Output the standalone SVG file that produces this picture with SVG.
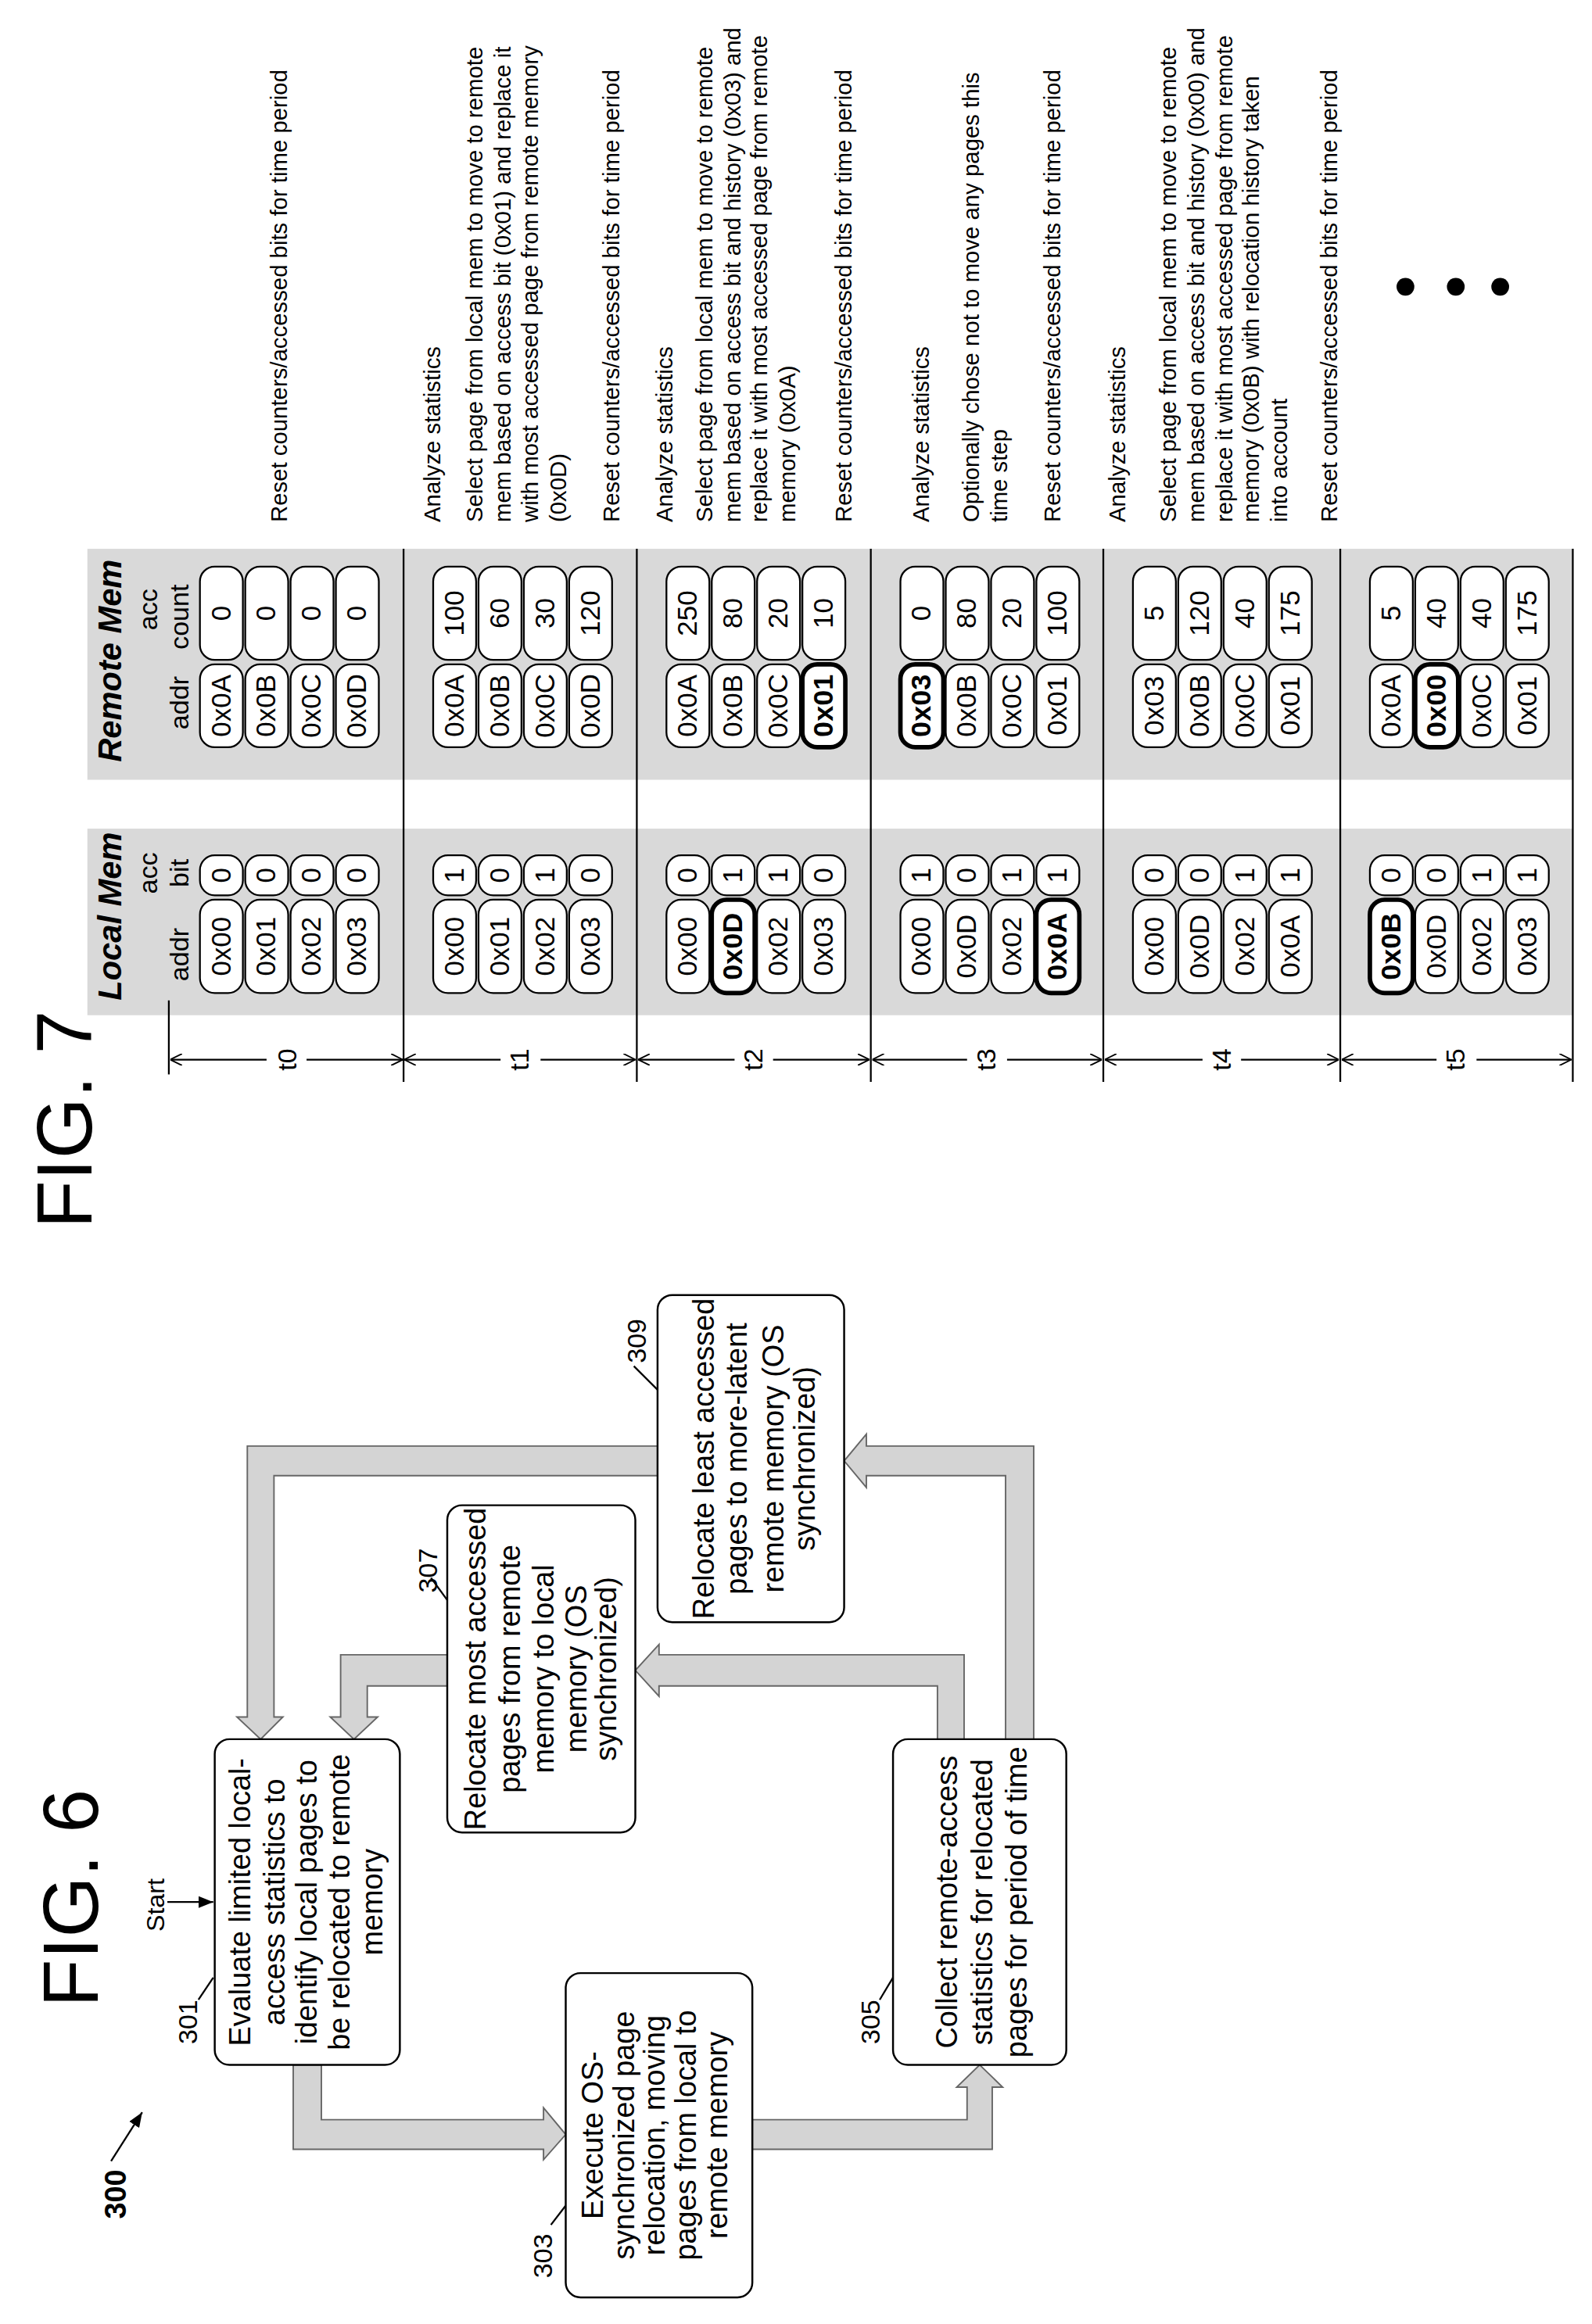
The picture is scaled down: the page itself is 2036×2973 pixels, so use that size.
<svg xmlns="http://www.w3.org/2000/svg" width="2036" height="2973" viewBox="0 0 2036 2973">
<style>
text{font-family:"Liberation Sans",Arial,sans-serif;fill:#000}
.box{fill:#fff;stroke:#000;stroke-width:1.3}
.bt{font-size:20px;text-anchor:middle}
.lbl{font-size:18px}
.blk{fill:#d4d4d4;stroke:#666;stroke-width:1}
.panel{fill:#d9d9d9}
.pill{fill:#fff;stroke:#000;stroke-width:1.2}
.pb{fill:#fff;stroke:#000;stroke-width:3}
.pt{font-size:18.5px;text-anchor:middle}
.ptb{font-size:19px;text-anchor:middle;font-weight:bold}
.hd{font-size:22px;font-weight:bold;font-style:italic}
.sh{font-size:18px;text-anchor:middle}
.ds{font-size:15.5px}
.ln{stroke:#000;stroke-width:1.2;fill:none}
</style>
<defs>
<marker id="v" markerWidth="8" markerHeight="8" refX="8" refY="4" orient="auto" markerUnits="userSpaceOnUse"><path d="M0,0 L8,4 L0,8" fill="none" stroke="#000" stroke-width="1"/></marker>
<marker id="tri" markerWidth="10" markerHeight="8" refX="10" refY="4" orient="auto" markerUnits="userSpaceOnUse"><path d="M0,0 L10,4 L0,8 Z" fill="#000"/></marker>
</defs>
<g transform="translate(0,2973) rotate(-90) scale(1.894)">
<!-- FIG 6 -->
<text x="214" y="66" font-size="53" id="fig6">FIG. 6</text>
<g id="n300"><text x="71" y="85" font-size="20" font-weight="bold">300</text></g>
<g id="start"><text x="265" y="111" font-size="17">Start</text></g>
<g id="connectors">
<line class="ln" x1="110" y1="75" x2="143" y2="96" marker-end="url(#tri)"/>
<line class="ln" x1="285" y1="113" x2="285" y2="144" marker-end="url(#tri)"/>
<polygon class="blk" points="175,198 175,217 138,217 138,367 146,367 128,382 111,367 118,367 118,198"/>
<polygon class="blk" points="138,508 138,653 160,653 160,646 175,661.5 160,677 160,670 118,670 118,508"/>
<polygon class="blk" points="395,633 395,651 452,651 452,445 459,445 441.5,429 424,445 431,445 431,633"/>
<polygon class="blk" points="452,302 452,230 410,230 410,223 395,239 410,255 410,248 431,248 431,302"/>
<polygon class="blk" points="395,679 395,698 593,698 593,585 601,585 583,570 565,585 573,585 573,679"/>
<polygon class="blk" points="593,444 593,167 410,167 410,160 395,176 410,191 410,185 573,185 573,444"/>
<line class="ln" x1="219" y1="134" x2="234" y2="144"/>
<line class="ln" x1="67" y1="372" x2="80" y2="382"/>
<line class="ln" x1="219" y1="594" x2="234" y2="603"/>
<line class="ln" x1="504" y1="291" x2="489" y2="302"/>
<line class="ln" x1="647" y1="428" x2="631" y2="444"/>
</g>
<g id="b301"><rect class="box" x="175" y="145" width="220" height="125" rx="10"/>
<text class="bt" x="285"><tspan x="285" y="169">Evaluate limited local-</tspan><tspan x="285" y="192">access statistics to</tspan><tspan x="285" y="214">identify local pages to</tspan><tspan x="285" y="236">be relocated to remote</tspan><tspan x="285" y="258">memory</tspan></text>
<text class="lbl" x="189" y="133">301</text></g>
<g id="b303"><rect class="box" x="18" y="382" width="219" height="126" rx="10"/>
<text class="bt"><tspan x="127.5" y="407">Execute OS-</tspan><tspan x="127.5" y="428">synchronized page</tspan><tspan x="127.5" y="449">relocation, moving</tspan><tspan x="127.5" y="470">pages from local to</tspan><tspan x="127.5" y="491">remote memory</tspan></text>
<text class="lbl" x="31" y="373">303</text></g>
<g id="b305"><rect class="box" x="175" y="603" width="220" height="117" rx="10"/>
<text class="bt"><tspan x="285" y="646">Collect remote-access</tspan><tspan x="285" y="670">statistics for relocated</tspan><tspan x="285" y="693">pages for period of time</tspan></text>
<text class="lbl" x="189" y="594">305</text></g>
<g id="b307"><rect class="box" x="332" y="302" width="221" height="127" rx="10"/>
<text class="bt"><tspan x="442.5" y="328">Relocate most accessed</tspan><tspan x="442.5" y="351">pages from remote</tspan><tspan x="442.5" y="374">memory to local</tspan><tspan x="442.5" y="396">memory (OS</tspan><tspan x="442.5" y="416">synchronized)</tspan></text>
<text class="lbl" x="494" y="295">307</text></g>
<g id="b309"><rect class="box" x="474" y="444" width="221" height="126" rx="10"/>
<text class="bt"><tspan x="584.5" y="482">Relocate least accessed</tspan><tspan x="584.5" y="504">pages to more-latent</tspan><tspan x="584.5" y="529">remote memory (OS</tspan><tspan x="584.5" y="550">synchronized)</tspan></text>
<text class="lbl" x="649" y="436">309</text></g>
<!-- FIG 7 -->
<text x="740" y="62" font-size="53" id="fig7">FIG. 7</text>
<g id="panels">
<rect class="panel" x="884" y="59" width="126" height="1003"/>
<rect class="panel" x="1043" y="59" width="156" height="1003"/>
<text class="hd" x="894" y="82">Local Mem</text>
<text class="hd" x="1055" y="82">Remote Mem</text>
<text class="sh" x="980" y="106">acc</text><text class="sh" x="980" y="127">bit</text><text class="sh" x="925" y="127">addr</text>
<text class="sh" x="1158" y="106">acc</text><text class="sh" x="1153" y="127">count</text><text class="sh" x="1095" y="127">addr</text>
</g>
<g id="axis">
<line class="ln" x1="844" y1="114" x2="894" y2="114"/>
<line class="ln" x1="839" y1="272.5" x2="1199" y2="272.5"/>
<line class="ln" x1="839" y1="430" x2="1199" y2="430"/>
<line class="ln" x1="839" y1="588" x2="1199" y2="588"/>
<line class="ln" x1="839" y1="745" x2="1199" y2="745"/>
<line class="ln" x1="839" y1="905" x2="1199" y2="905"/>
<line class="ln" x1="839" y1="1062" x2="1199" y2="1062"/>
<g marker-end="url(#v)">
<line class="ln" x1="854" y1="180" x2="854" y2="115"/><line class="ln" x1="854" y1="207" x2="854" y2="272"/>
<line class="ln" x1="854" y1="338" x2="854" y2="273"/><line class="ln" x1="854" y1="365" x2="854" y2="429"/>
<line class="ln" x1="854" y1="496" x2="854" y2="431"/><line class="ln" x1="854" y1="522" x2="854" y2="587"/>
<line class="ln" x1="854" y1="653" x2="854" y2="589"/><line class="ln" x1="854" y1="680" x2="854" y2="744"/>
<line class="ln" x1="854" y1="812" x2="854" y2="746"/><line class="ln" x1="854" y1="838" x2="854" y2="904"/>
<line class="ln" x1="854" y1="970" x2="854" y2="906"/><line class="ln" x1="854" y1="997" x2="854" y2="1061"/>
</g>
<text class="sh" x="854" y="200">t0</text><text class="sh" x="854" y="357">t1</text><text class="sh" x="854" y="515">t2</text>
<text class="sh" x="854" y="672">t3</text><text class="sh" x="854" y="831">t4</text><text class="sh" x="854" y="989">t5</text>
</g>
<g id="t0" transform="translate(0,115)">
<rect class="pill" x="899" y="20" width="63" height="29" rx="10"/><rect class="pill" x="899" y="50.6" width="63" height="29" rx="10"/><rect class="pill" x="899" y="81.2" width="63" height="29" rx="10"/><rect class="pill" x="899" y="111.8" width="63" height="29" rx="10"/>
<rect class="pill" x="965" y="20" width="27" height="29" rx="10"/><rect class="pill" x="965" y="50.6" width="27" height="29" rx="10"/><rect class="pill" x="965" y="81.2" width="27" height="29" rx="10"/><rect class="pill" x="965" y="111.8" width="27" height="29" rx="10"/>
<rect class="pill" x="1065" y="20" width="56" height="29" rx="10"/><rect class="pill" x="1065" y="50.6" width="56" height="29" rx="10"/><rect class="pill" x="1065" y="81.2" width="56" height="29" rx="10"/><rect class="pill" x="1065" y="111.8" width="56" height="29" rx="10"/>
<rect class="pill" x="1124" y="20" width="63" height="29" rx="10"/><rect class="pill" x="1124" y="50.6" width="63" height="29" rx="10"/><rect class="pill" x="1124" y="81.2" width="63" height="29" rx="10"/><rect class="pill" x="1124" y="111.8" width="63" height="29" rx="10"/>
<text class="pt" x="930.5" y="40.5">0x00</text><text class="pt" x="930.5" y="71.1">0x01</text><text class="pt" x="930.5" y="101.7">0x02</text><text class="pt" x="930.5" y="132.3">0x03</text>
<text class="pt" x="978.5" y="40.5">0</text><text class="pt" x="978.5" y="71.1">0</text><text class="pt" x="978.5" y="101.7">0</text><text class="pt" x="978.5" y="132.3">0</text>
<text class="pt" x="1093" y="40.5">0x0A</text><text class="pt" x="1093" y="71.1">0x0B</text><text class="pt" x="1093" y="101.7">0x0C</text><text class="pt" x="1093" y="132.3">0x0D</text>
<text class="pt" x="1155.5" y="40.5">0</text><text class="pt" x="1155.5" y="71.1">0</text><text class="pt" x="1155.5" y="101.7">0</text><text class="pt" x="1155.5" y="132.3">0</text>
<text class="ds" x="1217" y="79">Reset counters/accessed bits for time period</text>
</g>
<g id="t1" transform="translate(0,272.5)">
<rect class="pill" x="899" y="20" width="63" height="29" rx="10"/><rect class="pill" x="899" y="50.6" width="63" height="29" rx="10"/><rect class="pill" x="899" y="81.2" width="63" height="29" rx="10"/><rect class="pill" x="899" y="111.8" width="63" height="29" rx="10"/>
<rect class="pill" x="965" y="20" width="27" height="29" rx="10"/><rect class="pill" x="965" y="50.6" width="27" height="29" rx="10"/><rect class="pill" x="965" y="81.2" width="27" height="29" rx="10"/><rect class="pill" x="965" y="111.8" width="27" height="29" rx="10"/>
<rect class="pill" x="1065" y="20" width="56" height="29" rx="10"/><rect class="pill" x="1065" y="50.6" width="56" height="29" rx="10"/><rect class="pill" x="1065" y="81.2" width="56" height="29" rx="10"/><rect class="pill" x="1065" y="111.8" width="56" height="29" rx="10"/>
<rect class="pill" x="1124" y="20" width="63" height="29" rx="10"/><rect class="pill" x="1124" y="50.6" width="63" height="29" rx="10"/><rect class="pill" x="1124" y="81.2" width="63" height="29" rx="10"/><rect class="pill" x="1124" y="111.8" width="63" height="29" rx="10"/>
<text class="pt" x="930.5" y="40.5">0x00</text><text class="pt" x="930.5" y="71.1">0x01</text><text class="pt" x="930.5" y="101.7">0x02</text><text class="pt" x="930.5" y="132.3">0x03</text>
<text class="pt" x="978.5" y="40.5">1</text><text class="pt" x="978.5" y="71.1">0</text><text class="pt" x="978.5" y="101.7">1</text><text class="pt" x="978.5" y="132.3">0</text>
<text class="pt" x="1093" y="40.5">0x0A</text><text class="pt" x="1093" y="71.1">0x0B</text><text class="pt" x="1093" y="101.7">0x0C</text><text class="pt" x="1093" y="132.3">0x0D</text>
<text class="pt" x="1155.5" y="40.5">100</text><text class="pt" x="1155.5" y="71.1">60</text><text class="pt" x="1155.5" y="101.7">30</text><text class="pt" x="1155.5" y="132.3">120</text>
<text class="ds" x="1217" y="24.5">Analyze statistics</text>
<text class="ds"><tspan x="1217" y="53.5">Select page from local mem to move to remote</tspan><tspan x="1217" y="72.5">mem based on access bit (0x01) and replace it</tspan><tspan x="1217" y="90.5">with most accessed page from remote memory</tspan><tspan x="1217" y="109.5">(0x0D)</tspan></text>
<text class="ds" x="1217" y="145.5">Reset counters/accessed bits for time period</text>
</g>
<g id="t2" transform="translate(0,430)">
<rect class="pill" x="899" y="20" width="63" height="29" rx="10"/><rect class="pb" x="899" y="50.6" width="63" height="29" rx="10"/><rect class="pill" x="899" y="81.2" width="63" height="29" rx="10"/><rect class="pill" x="899" y="111.8" width="63" height="29" rx="10"/>
<rect class="pill" x="965" y="20" width="27" height="29" rx="10"/><rect class="pill" x="965" y="50.6" width="27" height="29" rx="10"/><rect class="pill" x="965" y="81.2" width="27" height="29" rx="10"/><rect class="pill" x="965" y="111.8" width="27" height="29" rx="10"/>
<rect class="pill" x="1065" y="20" width="56" height="29" rx="10"/><rect class="pill" x="1065" y="50.6" width="56" height="29" rx="10"/><rect class="pill" x="1065" y="81.2" width="56" height="29" rx="10"/><rect class="pb" x="1065" y="111.8" width="56" height="29" rx="10"/>
<rect class="pill" x="1124" y="20" width="63" height="29" rx="10"/><rect class="pill" x="1124" y="50.6" width="63" height="29" rx="10"/><rect class="pill" x="1124" y="81.2" width="63" height="29" rx="10"/><rect class="pill" x="1124" y="111.8" width="63" height="29" rx="10"/>
<text class="pt" x="930.5" y="40.5">0x00</text><text class="ptb" x="930.5" y="71.1">0x0D</text><text class="pt" x="930.5" y="101.7">0x02</text><text class="pt" x="930.5" y="132.3">0x03</text>
<text class="pt" x="978.5" y="40.5">0</text><text class="pt" x="978.5" y="71.1">1</text><text class="pt" x="978.5" y="101.7">1</text><text class="pt" x="978.5" y="132.3">0</text>
<text class="pt" x="1093" y="40.5">0x0A</text><text class="pt" x="1093" y="71.1">0x0B</text><text class="pt" x="1093" y="101.7">0x0C</text><text class="ptb" x="1093" y="132.3">0x01</text>
<text class="pt" x="1155.5" y="40.5">250</text><text class="pt" x="1155.5" y="71.1">80</text><text class="pt" x="1155.5" y="101.7">20</text><text class="pt" x="1155.5" y="132.3">10</text>
<text class="ds" x="1217" y="24">Analyze statistics</text>
<text class="ds"><tspan x="1217" y="51">Select page from local mem to move to remote</tspan><tspan x="1217" y="70">mem based on access bit and history (0x03) and</tspan><tspan x="1217" y="88">replace it with most accessed page from remote</tspan><tspan x="1217" y="107">memory (0x0A)</tspan></text>
<text class="ds" x="1217" y="145">Reset counters/accessed bits for time period</text>
</g>
<g id="t3" transform="translate(0,588)">
<rect class="pill" x="899" y="20" width="63" height="29" rx="10"/><rect class="pill" x="899" y="50.6" width="63" height="29" rx="10"/><rect class="pill" x="899" y="81.2" width="63" height="29" rx="10"/><rect class="pb" x="899" y="111.8" width="63" height="29" rx="10"/>
<rect class="pill" x="965" y="20" width="27" height="29" rx="10"/><rect class="pill" x="965" y="50.6" width="27" height="29" rx="10"/><rect class="pill" x="965" y="81.2" width="27" height="29" rx="10"/><rect class="pill" x="965" y="111.8" width="27" height="29" rx="10"/>
<rect class="pb" x="1065" y="20" width="56" height="29" rx="10"/><rect class="pill" x="1065" y="50.6" width="56" height="29" rx="10"/><rect class="pill" x="1065" y="81.2" width="56" height="29" rx="10"/><rect class="pill" x="1065" y="111.8" width="56" height="29" rx="10"/>
<rect class="pill" x="1124" y="20" width="63" height="29" rx="10"/><rect class="pill" x="1124" y="50.6" width="63" height="29" rx="10"/><rect class="pill" x="1124" y="81.2" width="63" height="29" rx="10"/><rect class="pill" x="1124" y="111.8" width="63" height="29" rx="10"/>
<text class="pt" x="930.5" y="40.5">0x00</text><text class="pt" x="930.5" y="71.1">0x0D</text><text class="pt" x="930.5" y="101.7">0x02</text><text class="ptb" x="930.5" y="132.3">0x0A</text>
<text class="pt" x="978.5" y="40.5">1</text><text class="pt" x="978.5" y="71.1">0</text><text class="pt" x="978.5" y="101.7">1</text><text class="pt" x="978.5" y="132.3">1</text>
<text class="ptb" x="1093" y="40.5">0x03</text><text class="pt" x="1093" y="71.1">0x0B</text><text class="pt" x="1093" y="101.7">0x0C</text><text class="pt" x="1093" y="132.3">0x01</text>
<text class="pt" x="1155.5" y="40.5">0</text><text class="pt" x="1155.5" y="71.1">80</text><text class="pt" x="1155.5" y="101.7">20</text><text class="pt" x="1155.5" y="132.3">100</text>
<text class="ds" x="1217" y="39">Analyze statistics</text>
<text class="ds"><tspan x="1217" y="73">Optionally chose not to move any pages this</tspan><tspan x="1217" y="92">time step</tspan></text>
<text class="ds" x="1217" y="128">Reset counters/accessed bits for time period</text>
</g>
<g id="t4" transform="translate(0,745)">
<rect class="pill" x="899" y="20" width="63" height="29" rx="10"/><rect class="pill" x="899" y="50.6" width="63" height="29" rx="10"/><rect class="pill" x="899" y="81.2" width="63" height="29" rx="10"/><rect class="pill" x="899" y="111.8" width="63" height="29" rx="10"/>
<rect class="pill" x="965" y="20" width="27" height="29" rx="10"/><rect class="pill" x="965" y="50.6" width="27" height="29" rx="10"/><rect class="pill" x="965" y="81.2" width="27" height="29" rx="10"/><rect class="pill" x="965" y="111.8" width="27" height="29" rx="10"/>
<rect class="pill" x="1065" y="20" width="56" height="29" rx="10"/><rect class="pill" x="1065" y="50.6" width="56" height="29" rx="10"/><rect class="pill" x="1065" y="81.2" width="56" height="29" rx="10"/><rect class="pill" x="1065" y="111.8" width="56" height="29" rx="10"/>
<rect class="pill" x="1124" y="20" width="63" height="29" rx="10"/><rect class="pill" x="1124" y="50.6" width="63" height="29" rx="10"/><rect class="pill" x="1124" y="81.2" width="63" height="29" rx="10"/><rect class="pill" x="1124" y="111.8" width="63" height="29" rx="10"/>
<text class="pt" x="930.5" y="40.5">0x00</text><text class="pt" x="930.5" y="71.1">0x0D</text><text class="pt" x="930.5" y="101.7">0x02</text><text class="pt" x="930.5" y="132.3">0x0A</text>
<text class="pt" x="978.5" y="40.5">0</text><text class="pt" x="978.5" y="71.1">0</text><text class="pt" x="978.5" y="101.7">1</text><text class="pt" x="978.5" y="132.3">1</text>
<text class="pt" x="1093" y="40.5">0x03</text><text class="pt" x="1093" y="71.1">0x0B</text><text class="pt" x="1093" y="101.7">0x0C</text><text class="pt" x="1093" y="132.3">0x01</text>
<text class="pt" x="1155.5" y="40.5">5</text><text class="pt" x="1155.5" y="71.1">120</text><text class="pt" x="1155.5" y="101.7">40</text><text class="pt" x="1155.5" y="132.3">175</text>
<text class="ds" x="1217" y="15">Analyze statistics</text>
<text class="ds"><tspan x="1217" y="49">Select page from local mem to move to remote</tspan><tspan x="1217" y="68">mem based on access bit and history (0x00) and</tspan><tspan x="1217" y="87">replace it with most accessed page from remote</tspan><tspan x="1217" y="105">memory (0x0B) with relocation history taken</tspan><tspan x="1217" y="124">into account</tspan></text>
<text class="ds" x="1217" y="158">Reset counters/accessed bits for time period</text>
</g>
<g id="t5" transform="translate(0,905)">
<rect class="pb" x="899" y="20" width="63" height="29" rx="10"/><rect class="pill" x="899" y="50.6" width="63" height="29" rx="10"/><rect class="pill" x="899" y="81.2" width="63" height="29" rx="10"/><rect class="pill" x="899" y="111.8" width="63" height="29" rx="10"/>
<rect class="pill" x="965" y="20" width="27" height="29" rx="10"/><rect class="pill" x="965" y="50.6" width="27" height="29" rx="10"/><rect class="pill" x="965" y="81.2" width="27" height="29" rx="10"/><rect class="pill" x="965" y="111.8" width="27" height="29" rx="10"/>
<rect class="pill" x="1065" y="20" width="56" height="29" rx="10"/><rect class="pb" x="1065" y="50.6" width="56" height="29" rx="10"/><rect class="pill" x="1065" y="81.2" width="56" height="29" rx="10"/><rect class="pill" x="1065" y="111.8" width="56" height="29" rx="10"/>
<rect class="pill" x="1124" y="20" width="63" height="29" rx="10"/><rect class="pill" x="1124" y="50.6" width="63" height="29" rx="10"/><rect class="pill" x="1124" y="81.2" width="63" height="29" rx="10"/><rect class="pill" x="1124" y="111.8" width="63" height="29" rx="10"/>
<text class="ptb" x="930.5" y="40.5">0x0B</text><text class="pt" x="930.5" y="71.1">0x0D</text><text class="pt" x="930.5" y="101.7">0x02</text><text class="pt" x="930.5" y="132.3">0x03</text>
<text class="pt" x="978.5" y="40.5">0</text><text class="pt" x="978.5" y="71.1">0</text><text class="pt" x="978.5" y="101.7">1</text><text class="pt" x="978.5" y="132.3">1</text>
<text class="pt" x="1093" y="40.5">0x0A</text><text class="ptb" x="1093" y="71.1">0x00</text><text class="pt" x="1093" y="101.7">0x0C</text><text class="pt" x="1093" y="132.3">0x01</text>
<text class="pt" x="1155.5" y="40.5">5</text><text class="pt" x="1155.5" y="71.1">40</text><text class="pt" x="1155.5" y="101.7">40</text><text class="pt" x="1155.5" y="132.3">175</text>
<circle cx="1376" cy="44" r="6"/><circle cx="1376" cy="78" r="6"/><circle cx="1376" cy="108" r="6"/>
</g>
</g>
</svg>
